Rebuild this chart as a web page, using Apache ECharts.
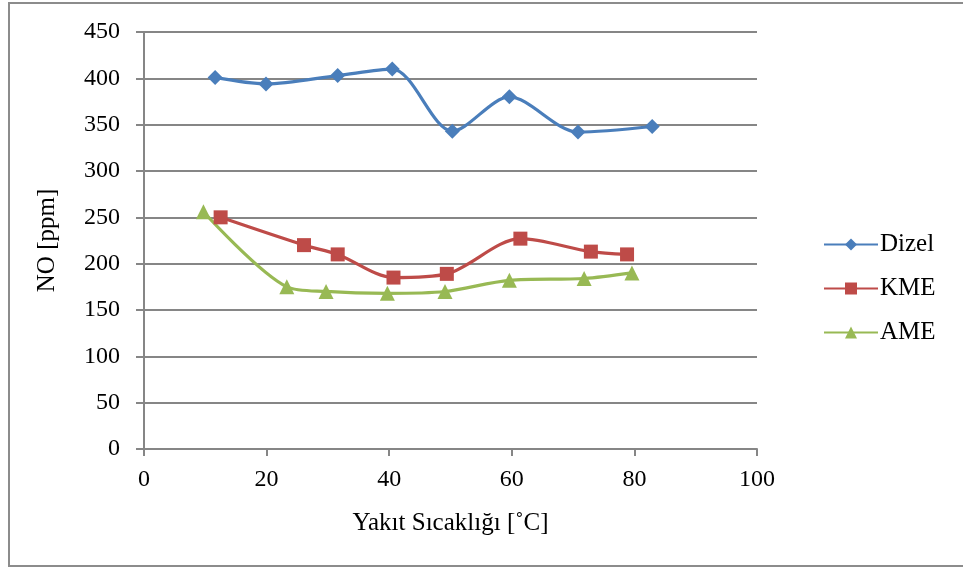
<!DOCTYPE html>
<html>
<head>
<meta charset="utf-8">
<script src="https://cdn.jsdelivr.net/npm/echarts@6/dist/echarts.min.js"></script>
<style>html,body{margin:0;padding:0;background:#fff;}#c{width:963px;height:569px;}</style>
</head>
<body>
<div id="c"></div>
<script>
const seriesNames = ['Dizel', 'KME', 'AME'];
const dizelX = [11.6, 19.9, 31.6, 40.5, 50.3, 59.6, 70.8, 82.9];
const dizelY = [401, 394, 403, 410, 343, 380, 342, 348];
const kmeX = [12.5, 26.1, 31.6, 40.7, 49.4, 61.4, 72.9, 78.8];
const kmeY = [250, 220, 210, 185, 189, 227, 213, 210];
const ameX = [9.7, 23.3, 29.7, 39.7, 49.1, 59.6, 71.8, 79.6];
const ameY = [256, 175, 170, 168, 170, 182, 184, 190];
const xTicks = [0, 20, 40, 60, 80, 100];
const yTicks = [0, 50, 100, 150, 200, 250, 300, 350, 400, 450];

const zip = (xs, ys) => xs.map((x, i) => [x, ys[i]]);
const font = 'Liberation Serif';
const axisGray = '#868686';
const chart = echarts.init(document.getElementById('c'), null, {renderer: 'canvas'});
const mk = (name, data, color, symbol, size) => ({
  name, type: 'line', data, smooth: 0.3,
  symbol, symbolSize: size,
  lineStyle: {color, width: 3.2},
  itemStyle: {color},
  z: 3
});
chart.setOption({
  animation: false,
  backgroundColor: '#fff',
  graphic: [{
    type: 'rect', shape: {x: 9, y: 3, width: 970, height: 563},
    style: {fill: 'none', stroke: '#8c8c8c', lineWidth: 2}, silent: true
  }],
  grid: {left: 144, right: 206, top: 32, bottom: 120},
  legend: {
    orient: 'vertical', left: 818, top: 227, itemWidth: 54, itemHeight: 15, itemGap: 19,
    textStyle: {fontFamily: font, fontSize: 25, color: '#000', padding: [0, 0, 0, -3]},
    data: seriesNames.map(n => ({name: n}))
  },
  xAxis: {
    type: 'value', min: xTicks[0], max: xTicks[xTicks.length - 1], interval: 20,
    name: 'Yakıt Sıcaklığı [˚C]', nameLocation: 'middle', nameGap: 62,
    nameTextStyle: {fontFamily: font, fontSize: 25, color: '#000'},
    axisLine: {show: true, lineStyle: {color: axisGray, width: 2}},
    axisTick: {show: true, inside: false, length: 7, lineStyle: {color: axisGray, width: 2}},
    axisLabel: {fontFamily: font, fontSize: 24, color: '#000', margin: 19},
    splitLine: {show: false}
  },
  yAxis: {
    type: 'value', min: yTicks[0], max: yTicks[yTicks.length - 1], interval: 50,
    name: 'NO [ppm]', nameLocation: 'middle', nameGap: 84, nameRotate: 90,
    nameTextStyle: {fontFamily: font, fontSize: 25, color: '#000'},
    axisLine: {show: true, lineStyle: {color: axisGray, width: 2}},
    axisTick: {show: true, inside: false, length: 8, lineStyle: {color: axisGray, width: 2}},
    axisLabel: {fontFamily: font, fontSize: 24, color: '#000', margin: 24},
    splitLine: {show: true, lineStyle: {color: axisGray, width: 2}}
  },
  series: [
    mk(seriesNames[0], zip(dizelX, dizelY), '#4A7EBB', 'diamond', 15),
    mk(seriesNames[1], zip(kmeX, kmeY), '#BE4B48', 'rect', 14),
    mk(seriesNames[2], zip(ameX, ameY), '#98B954', 'triangle', 15)
  ]
});
</script>
</body>
</html>
